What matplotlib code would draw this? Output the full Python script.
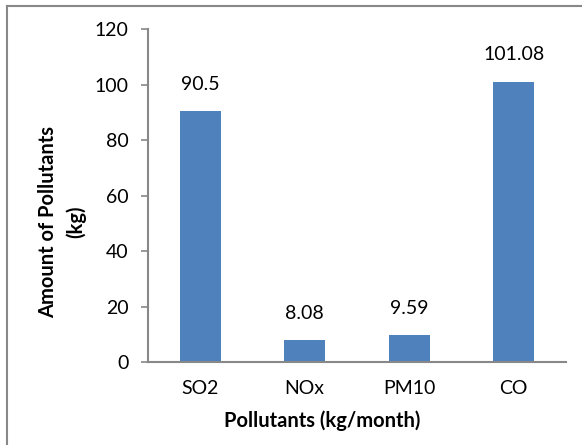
import matplotlib
matplotlib.use("Agg")
import matplotlib.pyplot as plt
from matplotlib.lines import Line2D

categories = ["SO2", "NOx", "PM10", "CO"]
values = [90.5, 8.08, 9.59, 101.08]
labels = ["90.5", "8.08", "9.59", "101.08"]
yticks = [0, 20, 40, 60, 80, 100, 120]

plt.rcParams['font.family'] = ['Lato', 'DejaVu Sans']

W, H = 582, 445
fig = plt.figure(figsize=(W/100, H/100), dpi=100)
ax = fig.add_axes([148/W, 1-362/H, 418/W, (362-29)/H])

x = range(len(categories))
ax.bar(x, values, width=0.39, color="#4f81bd")
ax.set_xlim(-0.5, 3.5)
ax.set_ylim(0, 120)
ax.set_yticks(yticks)
ax.set_yticklabels([str(t) for t in yticks], fontsize=14)
ax.set_xticks(list(x))
ax.set_xticklabels(categories, fontsize=14)
ax.tick_params(axis='x', length=0, pad=13)
ax.tick_params(axis='y', length=5, width=1.2, color="#888888", pad=9)
for s in ["top", "right"]:
    ax.spines[s].set_visible(False)
for s in ["left", "bottom"]:
    ax.spines[s].set_color("#888888")
    ax.spines[s].set_linewidth(1.5)

for xi, v, lab in zip(x, values, labels):
    ax.annotate(lab, (xi, v), xytext=(0, 13), textcoords="offset points",
                ha="center", va="bottom", fontsize=14)

fig.text(322/W, 1-421/H, "Pollutants (kg/month)", fontsize=14.5, fontweight="bold",
         ha="center", va="center")
fig.text(62/W, 1-222/H, "Amount of Pollutants\n(kg)", fontsize=14.5, fontweight="bold",
         ha="center", va="center", rotation=90, linespacing=1.45, multialignment="center")

fig.add_artist(Line2D([7/W, 7/W], [0, 1-6/H], transform=fig.transFigure, color="#888888", lw=1.5))
fig.add_artist(Line2D([7/W, 1], [1-6/H, 1-6/H], transform=fig.transFigure, color="#888888", lw=1.5))

fig.savefig("out.png", dpi=100)
